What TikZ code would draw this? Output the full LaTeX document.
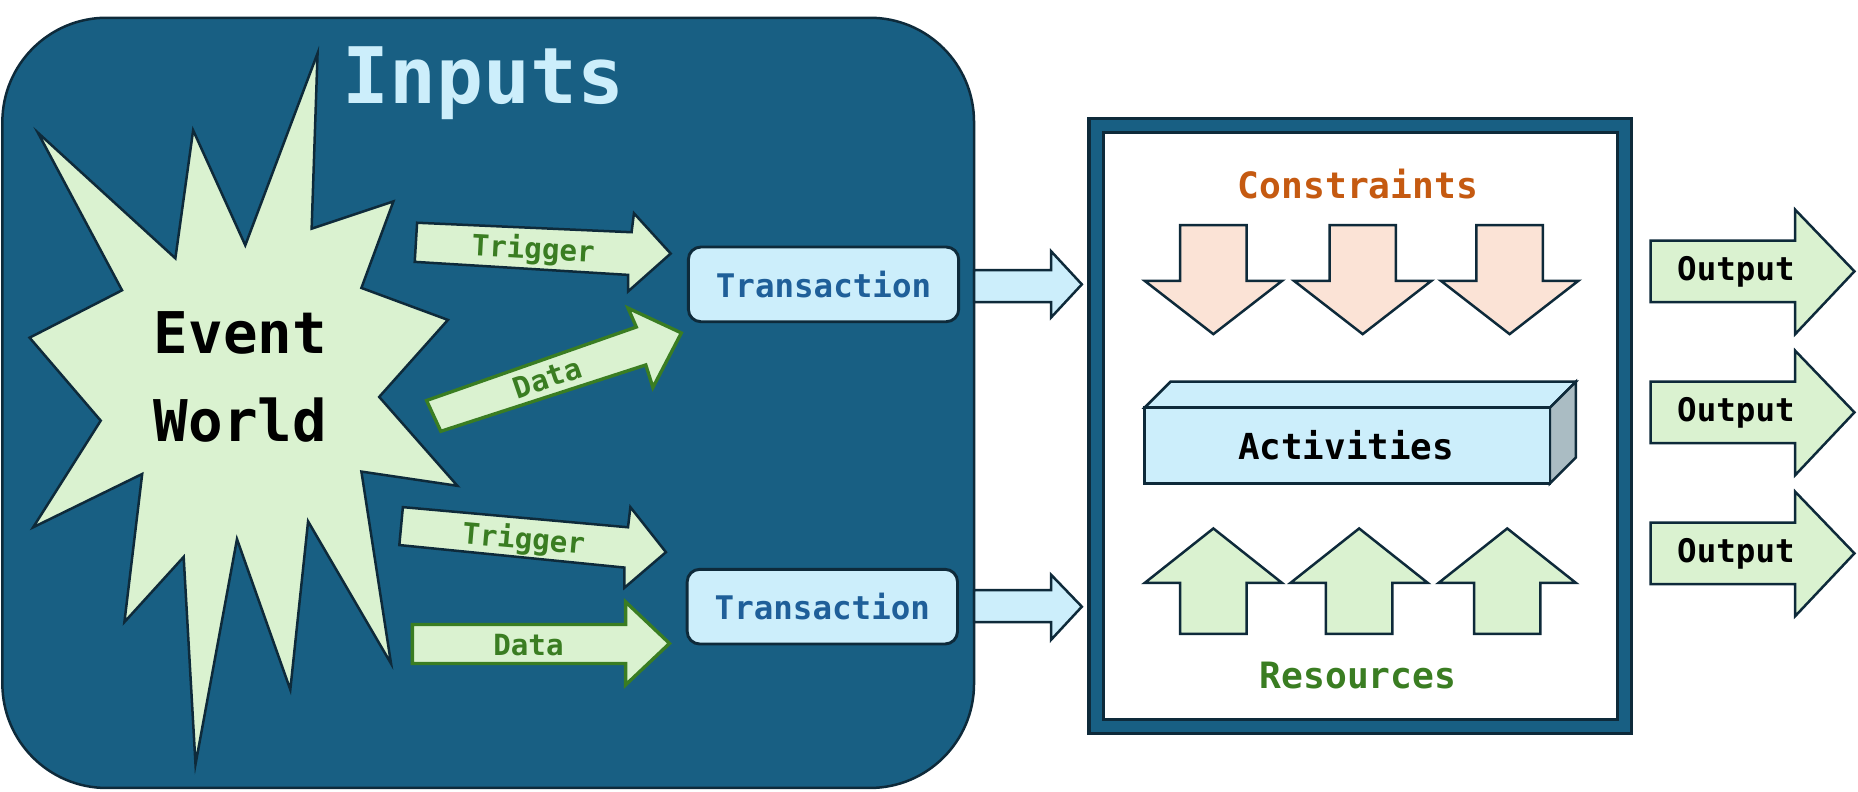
\documentclass[tikz,border=0pt]{standalone}
\usepackage{fontspec}
\setmonofont{DejaVu Sans Mono}
\begin{document}
\definecolor{bg}{HTML}{185F83}
\definecolor{lb}{HTML}{CCEEFB}
\definecolor{lg}{HTML}{DAF2D0}
\definecolor{pc}{HTML}{FBE3D6}
\definecolor{dg}{HTML}{3A7D22}
\definecolor{org}{HTML}{C55A11}
\definecolor{tb}{HTML}{1F5F99}
\definecolor{ln}{HTML}{0E2A3A}
\begin{tikzpicture}[x=0.01cm,y=-0.01cm,
  every node/.style={font=\ttfamily\bfseries},
  edge/.style={draw=ln,line width=0.6pt},
  lbl/.style={text=dg,font=\ttfamily\bfseries\fontsize{7}{8}\selectfont},
  outarrow/.style={edge,fill=lg},
  tx/.style={draw=ln,line width=0.7pt,fill=lb,rounded corners=3pt,minimum width=2.28cm,minimum height=0.63cm,inner sep=0pt,text=tb,font=\ttfamily\bfseries\fontsize{7.8}{9}\selectfont}]
\useasboundingbox (0,0) rectangle (1568,668);
% main rounded area
\draw[edge,fill=bg,rounded corners=25pt] (2,15) rectangle (822,665);
\node[text=lb,font=\ttfamily\bfseries\fontsize{18.7}{20}\selectfont] (inputs) at (408,70) {Inputs};
% star
\draw[edge,fill=lg] (32,112)--(148,218)--(163,110)--(207,207)--(268,45)--(263,193)--(332,170)--(305,243)--(378,270)--(320,335)--(386,410)--(305,398)--(330,560)--(260,440)--(245,582)--(200,455)--(165,645)--(155,470)--(105,525)--(120,400)--(28,445)--(85,355)--(25,285)--(103,245)--cycle;
\node[align=center,font=\ttfamily\bfseries\fontsize{13.8}{21}\selectfont] (ew) at (203,318) {Event\\World};
% input arrows
\draw[fill=lg,draw=ln,line width=0.6pt] (352,188)--(533,196)--(535,180)--(566,214)--(530,246)--(530,232)--(350,221)--cycle;
\node[lbl,rotate=-3] (t1) at (450,211) {Trigger};
\draw[fill=lg,draw=dg,line width=0.8pt] (360,338)--(537,276)--(530,260)--(575,281)--(551,327)--(545,308)--(372,364)--cycle;
\node[lbl,rotate=19] (d1) at (462,319) {Data};
\draw[fill=lg,draw=ln,line width=0.6pt] (340,428)--(530,445)--(532,428)--(562,466)--(527,496)--(527,479)--(337,460)--cycle;
\node[lbl,rotate=-5] (t2) at (442,456) {Trigger};
\draw[fill=lg,draw=dg,line width=0.8pt] (348,527)--(528,527)--(528,508)--(565,543)--(528,578)--(528,560)--(348,560)--cycle;
\node[lbl] (d2) at (446,544) {Data};
% transactions
\node[tx] (tr1) at (695,240) {Transaction};
\node[tx] (tr2) at (694,512) {Transaction};
\draw[edge,fill=lb] (822,228)--(887,228)--(887,212)--(913,240)--(887,268)--(887,255)--(822,255)--cycle;
\draw[edge,fill=lb] (822,498)--(887,498)--(887,485)--(913,512)--(887,540)--(887,525)--(822,525)--cycle;
% frame
\draw[draw=ln,line width=0.8pt,fill=bg] (919,100) rectangle (1377,619);
\draw[draw=ln,line width=0.8pt,fill=white] (931,112) rectangle (1365,607);
\node[text=org,font=\ttfamily\bfseries\fontsize{8.7}{10}\selectfont] (con) at (1146,155) {Constraints};
\node[text=dg,font=\ttfamily\bfseries\fontsize{8.7}{10}\selectfont] (res) at (1146,570) {Resources};
\foreach \c in {1024,1150,1274}{
  \draw[edge,fill=pc] (\c-28,190)--(\c+28,190)--(\c+28,237)--(\c+58,237)--(\c,282)--(\c-58,237)--(\c-28,237)--cycle;}
\foreach \c in {1024,1147,1272}{
  \draw[edge,fill=lg] (\c-28,535)--(\c+28,535)--(\c+28,492)--(\c+58,492)--(\c,446)--(\c-58,492)--(\c-28,492)--cycle;}
% activities cuboid
\draw[edge,fill=lb] (966,344)--(988,322)--(1330,322)--(1308,344)--cycle;
\draw[edge,fill=lb!55!gray] (1308,344)--(1330,322)--(1330,386)--(1308,408)--cycle;
\draw[edge,fill=lb] (966,344) rectangle (1308,408);
\node[font=\ttfamily\bfseries\fontsize{8.6}{10}\selectfont] (act) at (1136,376) {Activities};
% outputs
\foreach \y/\n in {229/o1,348/o2,467/o3}{
  \draw[outarrow] (1393,\y-26)--(1515,\y-26)--(1515,\y-52)--(1565,\y)--(1515,\y+53)--(1515,\y+26)--(1393,\y+26)--cycle;
  \node[font=\ttfamily\bfseries\fontsize{7.8}{9}\selectfont] (\n) at (1465,\y) {Output};}
\end{tikzpicture}
\end{document}
